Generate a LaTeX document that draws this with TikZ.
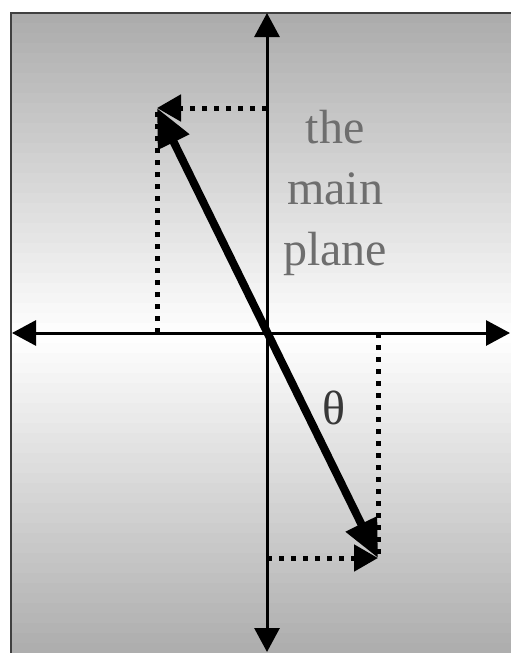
\documentclass[tikz,border=0pt]{standalone}
\usepackage{fontspec}
\setmainfont{Liberation Serif}
\usetikzlibrary{arrows.meta}

\begin{document}
\begin{tikzpicture}[
    x=1pt, y=-1pt,
    frame/.style={line width=2.5pt, draw=black!75},
    axis/.style={{Triangle[length=24pt,width=25pt]}-{Triangle[length=24pt,width=25pt]}, line width=3pt},
    vec/.style={{Triangle[length=38pt,width=33pt]}-{Triangle[length=38pt,width=33pt]}, line width=8pt},
    proj/.style={line width=5pt, dash pattern=on 5pt off 7pt},
    projarrow/.style={proj, -{Triangle[length=24pt,width=26pt]}},
    caption/.style={font=\fontsize{48}{61}\selectfont, text=black!57, align=center, inner sep=0pt},
    angle/.style={font=\fontsize{48}{50}\selectfont, text=black!78, inner sep=0pt}
]
\useasboundingbox (0,0) rectangle (511,653);

% Background: grey at the edges, white along the horizontal axis
\foreach \i in {0,...,64}{
    \pgfmathsetmacro{\shadeval}{33*abs(\i*10+18-336)/323}
    \fill[black!\shadeval] (11,13+\i*10) rectangle (525,23.5+\i*10);
}
\draw[frame] (11,665) -- (11,13) -- (525,13);

% Axes
\coordinate (O) at (267,333);
\coordinate (top) at (267,13);
\coordinate (bottom) at (267,652);
\coordinate (left) at (12,333);
\coordinate (right) at (510,333);
\draw[axis] (bottom) -- (top);
\draw[axis] (left) -- (right);

% Vector ends
\coordinate (P) at (157,108);
\coordinate (Q) at (378,558);

% Projections
\draw[proj] (P|-O) -- (P);
\draw[projarrow] (O|-P) -- (P);
\draw[proj] (Q|-O) -- (Q);
\draw[projarrow] (O|-Q) -- (Q);

% Vector
\draw[vec] (P) -- (Q);

% Labels
\node[caption, anchor=north] (plane) at (335,110) {the\\main\\plane};
\node[angle] (theta) at (334,408) {θ};
\end{tikzpicture}
\end{document}
